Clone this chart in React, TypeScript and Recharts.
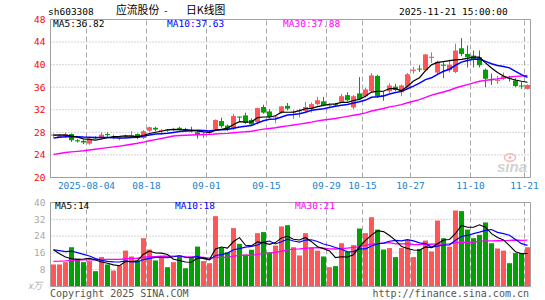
import React from "react";
import { ComposedChart, Bar, Line, XAxis, YAxis, CartesianGrid, ReferenceLine } from "recharts";

// trading days 2025-07-25 .. 2025-11-21
const dates = [
  "07-25", "07-28", "07-29", "07-30", "07-31", "08-01",
  "08-04", "08-05", "08-06", "08-07", "08-08", "08-11", "08-12", "08-13", "08-14", "08-15",
  "08-18", "08-19", "08-20", "08-21", "08-22", "08-25", "08-26", "08-27", "08-28", "08-29",
  "09-01", "09-02", "09-03", "09-04", "09-05", "09-08", "09-09", "09-10", "09-11", "09-12",
  "09-15", "09-16", "09-17", "09-18", "09-19", "09-22", "09-23", "09-24", "09-25", "09-26",
  "09-29", "09-30", "10-09", "10-10", "10-13", "10-14", "10-15", "10-16", "10-17",
  "10-20", "10-21", "10-22", "10-23", "10-24", "10-27", "10-28", "10-29", "10-30", "10-31",
  "11-03", "11-04", "11-05", "11-06", "11-07", "11-10", "11-11", "11-12", "11-13", "11-14",
  "11-17", "11-18", "11-19", "11-20", "11-21",
];

const opens = [
  27.4, 27.2, 27.3, 27.7, 26.6, 26.5, 26.0, 27.1, 26.9, 27.7,
  27.1, 27.0, 27.3, 27.3, 27.7, 27.0, 28.3, 28.8, 28.3, 28.5,
  28.4, 28.8, 28.6, 28.4, 28.0, 27.6, 27.9, 28.6, 30.0, 29.2,
  28.6, 30.8, 31.0, 30.2, 29.8, 32.5, 31.7, 30.6, 31.5, 32.7,
  31.6, 31.8, 31.8, 32.2, 33.0, 33.5, 32.8, 33.0, 33.4, 34.6,
  32.4, 34.9, 34.4, 35.3, 38.0, 34.6, 35.3, 36.1, 35.1, 36.1,
  38.9, 39.3, 39.0, 41.2, 38.6, 40.0, 39.0, 38.7, 42.9, 41.9,
  41.6, 41.3, 39.1, 37.4, 37.2, 37.5, 37.7, 37.2, 36.3, 35.7,
];
const closes = [
  27.6, 27.4, 27.7, 26.6, 26.4, 26.2, 26.9, 27.0, 27.6, 27.5,
  27.2, 27.1, 27.4, 27.5, 27.0, 28.2, 28.9, 28.5, 28.4, 28.3,
  28.6, 28.6, 28.3, 28.2, 27.6, 27.7, 28.1, 30.2, 29.1, 28.6,
  30.9, 30.7, 29.7, 29.4, 32.3, 31.5, 30.7, 30.8, 32.6, 32.2,
  31.7, 31.9, 32.5, 33.0, 33.7, 32.8, 32.9, 32.8, 34.4, 33.7,
  34.4, 33.9, 35.6, 38.1, 34.3, 34.5, 36.3, 35.5, 36.3, 38.3,
  39.1, 39.2, 41.8, 41.4, 40.5, 39.8, 40.0, 42.5, 41.9, 41.3,
  41.0, 39.9, 37.5, 37.3, 37.3, 38.0, 37.6, 36.2, 36.2, 36.4,
];
const highs = [
  27.8, 27.6, 28.0, 27.8, 26.8, 26.7, 27.0, 27.3, 28.0, 28.0,
  27.6, 27.3, 27.6, 28.2, 27.8, 28.4, 29.0, 29.0, 28.6, 28.6,
  28.8, 29.0, 28.8, 29.0, 28.2, 28.0, 28.4, 30.3, 30.6, 29.4,
  31.3, 30.8, 31.5, 30.5, 32.4, 32.9, 32.1, 31.0, 32.7, 33.2,
  32.0, 32.2, 33.4, 33.3, 34.3, 34.3, 33.2, 33.2, 34.8, 35.1,
  34.6, 37.8, 35.9, 38.5, 38.2, 35.2, 36.7, 36.6, 36.5, 38.5,
  39.6, 39.9, 41.9, 42.2, 40.7, 40.4, 40.9, 43.7, 44.7, 43.4,
  42.5, 42.5, 39.3, 38.4, 38.0, 38.6, 38.0, 37.6, 36.9, 36.5,
];
const lows = [
  27.2, 27.0, 27.0, 26.3, 26.2, 25.9, 25.8, 26.8, 26.7, 27.1,
  26.8, 26.6, 27.0, 27.1, 26.8, 26.8, 28.1, 28.2, 27.6, 28.1,
  28.2, 28.4, 28.1, 28.0, 26.9, 27.0, 27.6, 28.4, 28.8, 28.3,
  28.4, 29.9, 29.5, 29.2, 29.4, 31.3, 30.5, 29.6, 31.3, 31.9,
  30.4, 30.6, 31.6, 31.5, 32.8, 32.6, 32.4, 32.6, 33.2, 33.5,
  32.1, 33.7, 34.2, 35.0, 34.1, 33.6, 35.0, 35.3, 34.4, 35.9,
  38.4, 38.7, 38.8, 40.3, 38.2, 37.6, 38.6, 38.5, 41.5, 39.5,
  39.5, 39.5, 36.0, 36.4, 36.6, 37.3, 37.0, 36.0, 35.7, 35.6,
];
// 万手
const volumes = [
  10.5, 10.5, 11.6, 18.7, 13.2, 11.6, 12.1, 7.3, 14.0, 10.5,
  7.6, 10.0, 17.1, 14.3, 12.4, 23.0, 17.6, 12.4, 14.0, 9.2,
  11.6, 14.8, 8.7, 13.5, 19.0, 12.1, 11.1, 33.5, 18.4, 16.3,
  27.8, 20.3, 15.2, 17.5, 25.4, 25.9, 16.3, 19.5, 28.6, 29.2,
  18.7, 14.8, 25.4, 18.6, 17.1, 14.3, 9.2, 9.7, 20.6, 16.5,
  19.7, 27.6, 25.4, 33.0, 27.1, 17.6, 18.3, 14.0, 18.3, 22.2,
  14.0, 17.9, 21.9, 16.7, 31.4, 23.0, 19.0, 36.2, 35.9, 27.1,
  23.0, 24.6, 30.5, 20.6, 18.1, 17.1, 11.1, 15.9, 15.9, 18.7,
];

// sessions before the window, only used to start the moving averages
const prevCloses = [
  22.6, 22.9, 23.1, 23.4, 23.2, 23.0, 22.8, 23.1, 23.3, 23.5,
  22.9, 22.5, 22.3, 22.0, 21.8, 22.0, 22.4, 22.1, 21.9, 22.3,
  25.8, 27.1, 26.4, 26.3, 26.8, 27.2, 27.8, 27.6, 27.3,
];
const prevVolumes = [
  9, 8, 10, 9, 8, 10, 9, 9, 10, 9,
  8, 9, 10, 9, 9, 10, 10, 9, 10, 10,
  15, 16, 16.8, 19.8, 19.9, 20.0, 19.6, 22.7, 14.7,
];

const tickDates = ["08-04", "08-18", "09-01", "09-15", "09-29", "10-15", "10-27", "11-10", "11-21"];
const tickLabels = ["2025-08-04", "08-18", "09-01", "09-15", "09-29", "10-15", "10-27", "11-10", "11-21"];
const priceTicks = [20, 24, 28, 32, 36, 40, 44, 48];
const volTicks = [8, 16, 24, 32, 40];
const priceMaText = ["MA5:36.82", "MA10:37.63", "MA30:37.88"];
const volMaText = ["MA5:14", "MA10:18", "MA30:21"];

const UP = "#ff5757";
const DOWN = "#00a100";
const FRAME = "#a0a0a0";
const GRID = "#a8a8a8";
const MONO = "'DejaVu Sans Mono', monospace";
const CJK = "'Noto Sans CJK SC', sans-serif";

const movingAvg = (prev: number[], vals: number[], n: number) => {
  const all = [...prev, ...vals];
  return vals.map((_, i) => {
    const end = prev.length + i;
    let s = 0;
    for (let k = end - n + 1; k <= end; k++) s += all[k];
    return +(s / n).toFixed(3);
  });
};

const ma5 = movingAvg(prevCloses, closes, 5);
const ma10 = movingAvg(prevCloses, closes, 10);
const ma30 = movingAvg(prevCloses, closes, 30);
const vma5 = movingAvg(prevVolumes, volumes, 5);
const vma10 = movingAvg(prevVolumes, volumes, 10);
const vma30 = movingAvg(prevVolumes, volumes, 30);

const data = dates.map((date, i) => ({
  idx: i,
  date,
  open: opens[i],
  high: highs[i],
  low: lows[i],
  close: closes[i],
  range: [lows[i], highs[i]],
  up: closes[i] >= opens[i],
  volume: volumes[i],
  ma5: ma5[i],
  ma10: ma10[i],
  ma30: ma30[i],
  vma5: vma5[i],
  vma10: vma10[i],
  vma30: vma30[i],
}));

const tickIdx = tickDates.map((d) => dates.indexOf(d) - 0.5);
const fmtTick = (v: number) => tickLabels[tickIdx.indexOf(v)] ?? "";

const Candle = (props: any) => {
  const { x, y, width, height } = props;
  const d = props.payload || props;
  const color = d.close >= d.open ? UP : DOWN;
  const h = Math.abs(height);
  const top = Math.min(y, y + height);
  const k = d.high === d.low ? 0 : h / (d.high - d.low);
  const py = (v: number) => top + (d.high - v) * k;
  const cx = Math.floor(x + width / 2) + 0.5;
  const bTop = py(Math.max(d.open, d.close));
  const bBot = py(Math.min(d.open, d.close));
  return (
    <g>
      <line x1={cx} x2={cx} y1={top} y2={top + h} stroke={color} strokeWidth={1} />
      <rect x={cx - 2.5} y={bTop} width={5} height={Math.max(1, bBot - bTop)} fill={color} />
    </g>
  );
};

const VolBar = (props: any) => {
  const { x, y, width, height } = props;
  const d = props.payload || props;
  const cx = Math.floor(x + width / 2) + 0.5;
  return <rect x={cx - 2.5} y={y} width={5} height={Math.max(0, height)} fill={d.up ? UP : DOWN} />;
};

const frameLines = (yMin: number, yMax: number) => [
  <ReferenceLine key="ft" y={yMax} stroke={FRAME} />,
  <ReferenceLine key="fb" y={yMin} stroke={FRAME} />,
  <ReferenceLine key="fl" x={-0.5} stroke={FRAME} />,
  <ReferenceLine key="fr" x={79.5} stroke={FRAME} />,
];

const vGrid = () =>
  tickIdx.map((t) => <ReferenceLine key={"v" + t} x={t} stroke={GRID} strokeDasharray="5 3" />);

export default function App() {
  return (
    <div style={{ position: "absolute", left: 0, top: 0, width: 545, height: 300, background: "#fff" }}>
      <div style={{ position: "absolute", left: 0, top: 0 }}>
        <ComposedChart width={545} height={200} data={data} margin={{ top: 19.5, right: 14.5, bottom: 0, left: 0.5 }}>
          <CartesianGrid horizontal vertical={false} stroke={GRID} strokeDasharray="1 2" />
          {vGrid()}
          <XAxis
            type="number"
            dataKey="idx"
            domain={[-0.5, 79.5]}
            ticks={tickIdx}
            interval={0}
            tickFormatter={fmtTick}
            axisLine={false}
            tickLine={false}
            tickSize={4}
            tickMargin={1}
            height={22.5}
            tick={{ fill: "#1e82c8", fontSize: 9.5, fontFamily: MONO }}
          />
          <YAxis
            domain={[20, 48]}
            ticks={priceTicks}
            interval={0}
            axisLine={false}
            tickLine={false}
            tickSize={4}
            tickMargin={1}
            width={50}
            tick={{ fill: "#f00", fontSize: 9.5, fontFamily: MONO }}
          />
          <Bar dataKey="range" barSize={5} shape={<Candle />} isAnimationActive={false} />
          <Line type="linear" dataKey="ma30" stroke="#ff00ff" strokeWidth={1.4} dot={false} isAnimationActive={false} />
          <Line type="linear" dataKey="ma10" stroke="#0000ff" strokeWidth={1.5} dot={false} isAnimationActive={false} />
          <Line type="linear" dataKey="ma5" stroke="#000" strokeWidth={1.2} dot={false} isAnimationActive={false} />
          {frameLines(20, 48)}
        </ComposedChart>
      </div>

      <div style={{ position: "absolute", left: 0, top: 190 }}>
        <ComposedChart width={545} height={97} data={data} margin={{ top: 12.5, right: 14.5, bottom: 0.5, left: 0.5 }}>
          <CartesianGrid horizontal vertical={false} stroke={GRID} strokeDasharray="1 2" />
          {vGrid()}
          <XAxis type="number" dataKey="idx" domain={[-0.5, 79.5]} hide height={0} />
          <YAxis
            domain={[0, 40]}
            ticks={volTicks}
            interval={0}
            axisLine={false}
            tickLine={false}
            tickSize={4}
            tickMargin={1}
            width={50}
            tick={{ fill: "#a8a8a8", fontSize: 9.5, fontFamily: MONO }}
          />
          <Bar dataKey="volume" barSize={5} shape={<VolBar />} isAnimationActive={false} />
          <Line type="linear" dataKey="vma30" stroke="#ff00ff" strokeWidth={1.3} dot={false} isAnimationActive={false} />
          <Line type="linear" dataKey="vma10" stroke="#0000ff" strokeWidth={1.2} dot={false} isAnimationActive={false} />
          <Line type="linear" dataKey="vma5" stroke="#000" strokeWidth={1.1} dot={false} isAnimationActive={false} />
          {frameLines(0, 40)}
        </ComposedChart>
      </div>

      <svg width={545} height={300} style={{ position: "absolute", left: 0, top: 0, pointerEvents: "none" }}>
        <g fontFamily={MONO} fontSize={9.5}>
          <text x={48} y={15} fill="#000">sh603308</text>
          <text x={163} y={14} fill="#000">-</text>
          <text x={399} y={15} fill="#000">2025-11-21 15:00:00</text>
          <text x={53} y={26.7} fill="#000">{priceMaText[0]}</text>
          <text x={167} y={26.7} fill="#0000ff">{priceMaText[1]}</text>
          <text x={283} y={26.7} fill="#ff00ff">{priceMaText[2]}</text>
          <text x={55} y={209.3} fill="#000">{volMaText[0]}</text>
          <text x={175} y={209.3} fill="#0000ff">{volMaText[1]}</text>
          <text x={295} y={209.3} fill="#ff00ff">{volMaText[2]}</text>
        </g>
        <g fontFamily={CJK} fontSize={10.8} fill="#000">
          <text x={116} y={13.8}>应流股份</text>
          <text x={186} y={13.8}>日K线图</text>
        </g>
        <text x={28} y={289} fontFamily={CJK} fontSize={9.5} fontStyle="italic" fill="#b0b0b0">x万</text>
        <g fontFamily={MONO} fontSize={10} fill="#555">
          <text x={50} y={296.5}>Copyright 2025 SINA.COM</text>
          <text x={529} y={296.5} textAnchor="end">http://finance.sina.com.cn</text>
        </g>
        <g opacity={0.8}>
          <ellipse cx={510} cy={157.5} rx={5.5} ry={3.8} fill="none" stroke="#f2a8a8" strokeWidth={1.5} />
          <circle cx={510} cy={157.5} r={1.5} fill="#f2a8a8" />
          <text x={497} y={172} fontFamily="'Liberation Sans', Arial, sans-serif" fontSize={15} fontWeight="bold" fontStyle="italic" fill="#c8c8c8">sina</text>
        </g>
      </svg>
    </div>
  );
}
